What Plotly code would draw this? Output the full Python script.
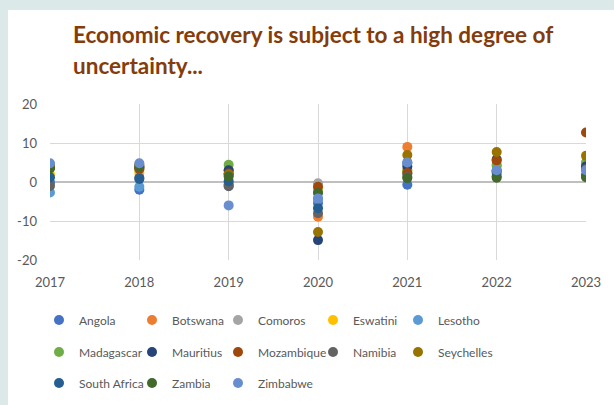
import plotly.graph_objects as go

years = [2017, 2018, 2019, 2020, 2021, 2022, 2023]

countries = ["Angola", "Botswana", "Comoros", "Eswatini", "Lesotho",
             "Madagascar", "Mauritius", "Mozambique", "Namibia", "Seychelles",
             "South Africa", "Zambia", "Zimbabwe"]

angola       = [-0.1, -2.0, -0.6, -5.4, -0.7, 2.9, 3.2]
botswana     = [4.1, 4.5, 3.0, -8.9, 9.0, 4.1, 4.2]
comoros      = [3.8, 3.6, 1.9, -0.3, 2.2, 2.4, 3.5]
eswatini     = [2.0, 2.4, 2.2, -1.6, 3.1, 2.4, 1.8]
lesotho      = [-2.7, -1.2, -1.0, -4.4, 2.1, 2.6, 3.4]
madagascar   = [3.9, 3.2, 4.4, -2.5, 2.9, 4.4, 5.0]
mauritius    = [3.8, 3.8, 3.0, -14.9, 4.0, 5.8, 4.0]
mozambique   = [3.7, 3.4, 2.2, -1.2, 2.3, 5.5, 12.7]
namibia      = [-1.0, 1.1, -1.1, -8.0, 1.3, 2.8, 3.3]
seychelles   = [4.3, 4.1, 1.9, -12.8, 6.9, 7.7, 6.7]
south_africa = [1.2, 0.8, 0.2, -6.7, 4.9, 1.5, 1.7]
zambia       = [3.5, 4.0, 1.4, -2.8, 1.0, 1.1, 1.2]
zimbabwe     = [4.8, 4.8, -6.0, -4.2, 5.0, 3.0, 3.0]

series = [angola, botswana, comoros, eswatini, lesotho, madagascar, mauritius,
          mozambique, namibia, seychelles, south_africa, zambia, zimbabwe]

colors = ["#4472C4", "#ED7D31", "#A5A5A5", "#FFC000", "#5B9BD5",
          "#70AD47", "#264478", "#9E480E", "#636363", "#997300",
          "#255E91", "#43682B", "#698ED0"]

y_ticks = [-20, -10, 0, 10, 20]
y_tick_text = ["-20", "-10", "0", "10", "20"]

title_line1 = "Economic recovery is subject to a high degree of"
title_line2 = "uncertainty..."

FONT = "Lato"
TXT = "#595959"

W, H = 614, 405
ml, mr, mt, mb = 50, 28, 104, 145
pw = W - ml - mr
ph = H - mt - mb


def px2x(px):
    return (px - ml) / pw


def py2y(py):
    return (H - mb - py) / ph


# legend grid (5 columns x 3 rows), positions of legend dots in pixels
col_px = [58, 151, 237, 332, 417]
row_py = [320, 352, 383]

fig = go.Figure()
legend_layouts = {}
for i, (name, vals, col) in enumerate(zip(countries, series, colors)):
    lg = "legend" if i == 0 else "legend%d" % (i + 1)
    fig.add_trace(go.Scatter(
        x=years, y=vals, mode="markers", name=name,
        marker=dict(color=col, size=10, line=dict(width=0)),
        legend=lg,
    ))
    r, c = divmod(i, 5)
    legend_layouts[lg] = dict(
        xref="container", yref="container",
        x=(col_px[c] - 19) / W, y=1 - row_py[r] / H,
        orientation="h", xanchor="left", yanchor="middle",
        font=dict(family=FONT, size=12, color=TXT),
        bgcolor="rgba(0,0,0,0)", itemwidth=30,
    )

fig.update_layout(
    width=W, height=H,
    margin=dict(l=ml, r=mr, t=mt, b=mb),
    paper_bgcolor="#DCE9E9",
    plot_bgcolor="white",
    showlegend=True,
    font=dict(family=FONT, color=TXT, size=13),
    xaxis=dict(
        range=[2017, 2023], tickvals=years, ticktext=[str(y) for y in years],
        showgrid=True, gridcolor="#D9D9D9", gridwidth=1,
        zeroline=False, showline=False, ticks="", ticklabelstandoff=13,
        tickfont=dict(family=FONT, size=13, color=TXT),
        fixedrange=True,
    ),
    yaxis=dict(
        range=[-20, 20], tickvals=y_ticks, ticktext=y_tick_text,
        showgrid=True, gridcolor="#D9D9D9", gridwidth=1,
        zeroline=True, zerolinecolor="#BFBFBF", zerolinewidth=1.5,
        showline=False, ticks="", ticklabelstandoff=12,
        tickfont=dict(family=FONT, size=13, color=TXT),
        fixedrange=True,
    ),
    shapes=[dict(
        type="rect", xref="paper", yref="paper", layer="below",
        x0=px2x(8), x1=px2x(W + 5), y0=py2y(H + 5), y1=py2y(10),
        fillcolor="white", line=dict(width=0),
    )],
    annotations=[
        dict(text="<b>" + title_line1 + "</b>", xref="paper", yref="paper",
             x=px2x(71), y=py2y(34), xanchor="left", yanchor="middle",
             showarrow=False, font=dict(family=FONT, size=22.5, color="#843C0C")),
        dict(text="<b>" + title_line2 + "</b>", xref="paper", yref="paper",
             x=px2x(71), y=py2y(65), xanchor="left", yanchor="middle",
             showarrow=False, font=dict(family=FONT, size=22.5, color="#843C0C")),
    ],
    **legend_layouts,
)

fig.write_html("out.html")
